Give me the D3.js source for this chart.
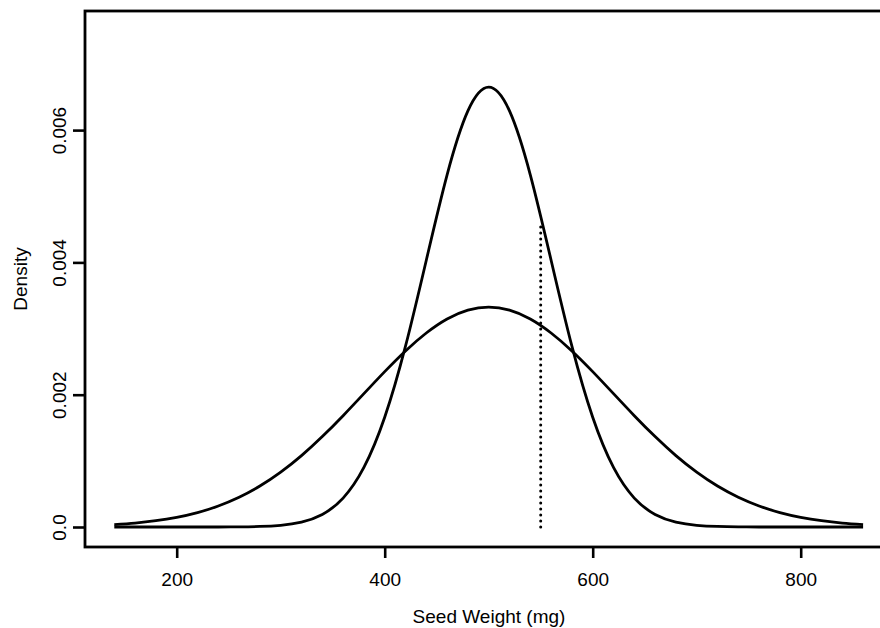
<!DOCTYPE html>
<html>
<head>
<meta charset="utf-8">
<script src="https://cdn.jsdelivr.net/npm/d3@7"></script>
<style>
  body { margin: 0; background: #fff; }
  svg text { font-family: "Liberation Sans", Arial, Helvetica, sans-serif; fill: #000; }
</style>
</head>
<body>
<svg id="chart" width="880" height="628"></svg>
<script>
// seed weight grid (mg) and the two density curves
var seedWeights = [140, 160, 180, 200, 220, 240, 260, 280, 300, 320, 340, 360, 380, 400, 420, 440, 460, 480, 500,
                   520, 540, 560, 580, 600, 620, 640, 660, 680, 700, 720, 740, 760, 780, 800, 820, 840, 860];

// narrow curve (tall peak)
var narrowDensity = [0, 0, 0, 0, 0, 0, 0.000002, 0.000008, 0.000026, 0.000074, 0.00019, 0.000437, 0.0009, 0.001658,
                     0.002733, 0.004033, 0.005324, 0.00629, 0.006649,
                     0.00629, 0.005324, 0.004033, 0.002733, 0.001658, 0.0009, 0.000437, 0.00019, 0.000074, 0.000026,
                     0.000008, 0.000002, 0, 0, 0, 0, 0, 0];

// wide curve (low peak)
var wideDensity = [0.000037, 0.00006, 0.000095, 0.000146, 0.000218, 0.000318, 0.00045, 0.000619, 0.000829, 0.001079,
                   0.001367, 0.001683, 0.002016, 0.002349, 0.002662, 0.002933, 0.003145, 0.003278, 0.003324,
                   0.003278, 0.003145, 0.002933, 0.002662, 0.002349, 0.002016, 0.001683, 0.001367, 0.001079, 0.000829,
                   0.000619, 0.00045, 0.000318, 0.000218, 0.000146, 0.000095, 0.00006, 0.000037];

// dotted reference line
var markerWeight = 550;
var markerTop = 0.0046;

var xTicks = [200, 400, 600, 800];
var yTicks = [0, 0.002, 0.004, 0.006];

var svg = d3.select('#chart');

var x = d3.scaleLinear().domain([140, 860]).range([114.3, 863.1]);
var y = d3.scaleLinear().domain([0, 0.006]).range([527, 130.1]);

var fontSize = '19px';

// frame (right side runs off the page)
svg.append('rect')
  .attr('x', 85).attr('y', 11)
  .attr('width', 820).attr('height', 536)
  .attr('fill', 'none')
  .attr('stroke', '#000')
  .attr('stroke-width', 2.8);

// x axis
var xAxis = svg.append('g')
  .attr('transform', 'translate(0,547)')
  .call(d3.axisBottom(x).tickValues(xTicks).tickSize(11).tickFormat(d3.format('d')));
xAxis.select('.domain').remove();
xAxis.selectAll('line').attr('stroke', '#000').attr('stroke-width', 2.6);
xAxis.selectAll('text')
  .attr('y', 39).attr('dy', null)
  .style('font-size', fontSize);

// y axis
var yAxis = svg.append('g')
  .attr('transform', 'translate(85,0)')
  .call(d3.axisLeft(y).tickValues(yTicks).tickSize(12)
    .tickFormat(function(d) { return d === 0 ? '0.0' : d3.format('.3f')(d); }));
yAxis.select('.domain').remove();
yAxis.selectAll('line').attr('stroke', '#000').attr('stroke-width', 2.6);
yAxis.selectAll('text')
  .attr('x', null).attr('dy', null)
  .attr('transform', 'translate(-19,0) rotate(-90)')
  .attr('text-anchor', 'middle')
  .style('font-size', fontSize);

// axis titles
svg.append('text')
  .attr('x', 489).attr('y', 623)
  .attr('text-anchor', 'middle')
  .style('font-size', fontSize)
  .text('Seed Weight (mg)');

svg.append('text')
  .attr('transform', 'translate(27,279) rotate(-90)')
  .attr('text-anchor', 'middle')
  .style('font-size', fontSize)
  .text('Density');

// curves - natural spline keeps the peaks smooth
var line = d3.line()
  .x(function(d) { return x(d[0]); })
  .y(function(d) { return y(d[1]); })
  .curve(d3.curveNatural);

[narrowDensity, wideDensity].forEach(function(series) {
  svg.append('path')
    .datum(seedWeights.map(function(w, i) { return [w, series[i]]; }))
    .attr('d', line)
    .attr('fill', 'none')
    .attr('stroke', '#000')
    .attr('stroke-width', 2.8);
});

// dotted vertical line
svg.append('line')
  .attr('x1', x(markerWeight)).attr('x2', x(markerWeight))
  .attr('y1', y(0)).attr('y2', y(markerTop))
  .attr('stroke', '#000')
  .attr('stroke-width', 3)
  .attr('stroke-linecap', 'round')
  .attr('stroke-dasharray', '0 6');
</script>
</body>
</html>
